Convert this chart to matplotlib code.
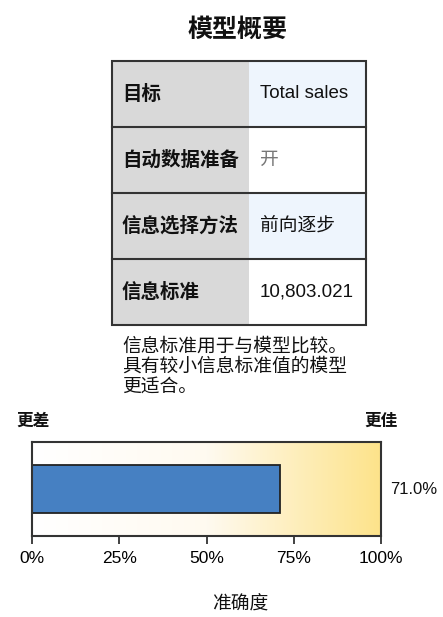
import matplotlib
matplotlib.use("Agg")
import matplotlib.pyplot as plt
import numpy as np
from matplotlib.colors import LinearSegmentedColormap
from matplotlib.patches import Rectangle

plt.rcParams['font.family'] = ['Noto Sans CJK SC', 'Liberation Sans', 'DejaVu Sans']
LAT = ['Liberation Sans', 'Noto Sans CJK SC', 'DejaVu Sans']

title = "模型概要"
row_labels = ["目标", "自动数据准备", "信息选择方法", "信息标准"]
row_values = ["Total sales", "开", "前向逐步", "10,803.021"]
value_colors = ["#111111", "#777777", "#111111", "#111111"]
note_lines = ["信息标准用于与模型比较。", "具有较小信息标准值的模型", "更适合。"]
accuracy = 71.0
tick_vals = [0, 25, 50, 75, 100]
tick_labels = ["0%", "25%", "50%", "75%", "100%"]
left_label = "更差"
right_label = "更佳"
xlabel = "准确度"

W, H = 443, 617
fig = plt.figure(figsize=(W / 100, H / 100), dpi=100)
bg = fig.add_axes([0, 0, 1, 1])
bg.set_xlim(0, W)
bg.set_ylim(H, 0)
bg.axis('off')

# title
bg.text(238, 30, title, ha='center', va='center', fontsize=18, fontweight='bold', color='#111111')

# table
tx0, tx1, tmid = 112, 366, 249
ty0, rh = 61, 66
right_fill = ["#eef5fd", "#ffffff", "#eef5fd", "#ffffff"]
for i, (lab, val) in enumerate(zip(row_labels, row_values)):
    y = ty0 + i * rh
    bg.add_patch(Rectangle((tx0, y), tmid - tx0, rh, facecolor="#d9d9d9", edgecolor='none'))
    bg.add_patch(Rectangle((tmid, y), tx1 - tmid, rh, facecolor=right_fill[i], edgecolor='none'))
    bg.text(122, y + rh / 2, lab, ha='left', va='center', fontsize=14, fontweight='bold', color='#111111')
    bg.text(260, y + rh / 2, val, ha='left', va='center', fontsize=13.5, color=value_colors[i],
            fontfamily=LAT)
    if i > 0:
        bg.plot([tx0, tx1], [y, y], color='#333333', lw=1.5)
bg.add_patch(Rectangle((tx0, ty0), tx1 - tx0, rh * len(row_labels), facecolor='none',
                       edgecolor='#333333', lw=1.5))

# note
bg.text(122, 366, "\n".join(note_lines), ha='left', va='center', fontsize=13.5,
        linespacing=0.92, color='#111111')

bg.text(16, 421, left_label, ha='left', va='center', fontsize=12, fontweight='bold', color='#111111')
bg.text(398, 421, right_label, ha='right', va='center', fontsize=12, fontweight='bold', color='#111111')

# bar chart
ax = fig.add_axes([32 / W, 1 - 536 / H, (381 - 32) / W, (536 - 442) / H])
cmap = LinearSegmentedColormap.from_list('g', ['#ffffff', '#fffaf0', '#fde38a'])
grad = np.linspace(0, 1, 256).reshape(1, -1)
ax.imshow(grad, cmap=cmap, extent=[0, 100, 0, 1], aspect='auto', zorder=0)
ax.barh(0.5, accuracy, height=0.51, left=0, color='#4680c2', edgecolor='#222222', lw=1.3, zorder=2)
ax.set_xlim(0, 100)
ax.set_ylim(0, 1)
ax.set_yticks([])
ax.set_xticks(tick_vals)
ax.set_xticklabels(tick_labels, fontsize=12.5, fontfamily=LAT)
ax.tick_params(axis='x', direction='out', length=6, width=1.3, color='#333333', pad=5)
for s in ax.spines.values():
    s.set_color('#333333')
    s.set_linewidth(1.5)
ax.text(102.5, 0.5, f"{accuracy:.1f}%", ha='left', va='center', fontsize=12,
        fontfamily=LAT, color='#111111', transform=ax.transData, clip_on=False)

bg.text(240, 604, xlabel, ha='center', va='center', fontsize=13.5, color='#111111')

fig.savefig('out.png', dpi=100)
